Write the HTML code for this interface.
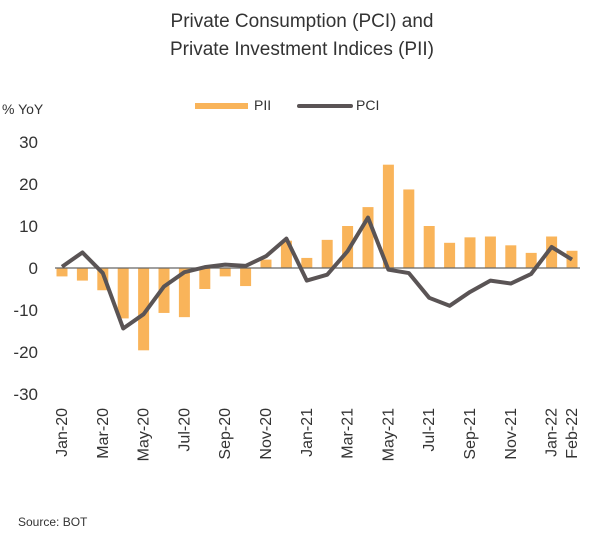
<!DOCTYPE html>
<html><head><meta charset="utf-8"><style>
body{margin:0;background:#fff;width:609px;height:546px;overflow:hidden}
svg{display:block;font-family:"Liberation Sans",sans-serif}
</style></head><body>
<svg id="c" width="609" height="546" xmlns="http://www.w3.org/2000/svg">
<text x="302" y="27" font-size="19" text-anchor="middle" fill="#333">Private Consumption (PCI) and</text>
<text x="302" y="55" font-size="19" text-anchor="middle" fill="#333">Private Investment Indices (PII)</text>
<text x="2" y="114" font-size="14" fill="#333">% YoY</text>
<rect x="195" y="103" width="53" height="6" fill="#F9B45A"/>
<text x="254" y="110" font-size="14" fill="#333">PII</text>
<line x1="299" y1="106" x2="351" y2="106" stroke="#5a5455" stroke-width="4" stroke-linecap="round"/>
<text x="356" y="110" font-size="14" fill="#333">PCI</text>
<g font-size="17" fill="#333" text-anchor="end">
<text x="38" y="148">30</text><text x="38" y="190">20</text><text x="38" y="232">10</text>
<text x="38" y="274">0</text><text x="38" y="316">-10</text><text x="38" y="358">-20</text><text x="38" y="400">-30</text>
</g>
<g id="bars"></g>
<line x1="55" y1="268" x2="580" y2="268" stroke="#666" stroke-width="1.3"/>
<polyline id="ln" fill="none" stroke="#5a5455" stroke-width="4" stroke-linejoin="round"/>
<g id="xl" font-size="16" fill="#333"></g>
<text x="18" y="526" font-size="12" fill="#333">Source:  BOT</text>
</svg>
<script>
var pii=[-2,-3,-5.3,-12,-19.6,-10.7,-11.7,-5,-2,-4.3,2,6.5,2.4,6.7,10,14.5,24.6,18.7,10,6,7.3,7.5,5.4,3.6,7.5,4.1];
var pci=[0.3,3.7,-1.2,-14.4,-11,-4.4,-1,0.2,0.8,0.5,2.8,7,-3,-1.6,4,12,-0.4,-1.2,-7.1,-9,-5.7,-3,-3.7,-1.4,5,2];
var names=["Jan-20","Mar-20","May-20","Jul-20","Sep-20","Nov-20","Jan-21","Mar-21","May-21","Jul-21","Sep-21","Nov-21","Jan-22"];
var ns="http://www.w3.org/2000/svg",b=document.getElementById("bars"),pts=[];
function X(i){return 62+i*20.4}function Y(v){return 268-v*4.2}
for(var i=0;i<26;i++){var r=document.createElementNS(ns,"rect");var y0=Y(Math.max(0,pii[i])),h=Math.abs(pii[i])*4.2;
r.setAttribute("x",X(i)-5.5);r.setAttribute("y",y0);r.setAttribute("width",11);r.setAttribute("height",h);r.setAttribute("fill","#F9B45A");b.appendChild(r);
pts.push(X(i)+","+Y(pci[i]));}
document.getElementById("ln").setAttribute("points",pts.join(" "));
var xl=document.getElementById("xl");
function lab(i,t){var e=document.createElementNS(ns,"text");var x=X(i)+5;e.setAttribute("transform","translate("+x+",408) rotate(-90)");e.setAttribute("text-anchor","end");e.textContent=t;xl.appendChild(e);}
for(var k=0;k<13;k++)lab(k*2,names[k]);lab(25,"Feb-22");
</script>
</body></html>
